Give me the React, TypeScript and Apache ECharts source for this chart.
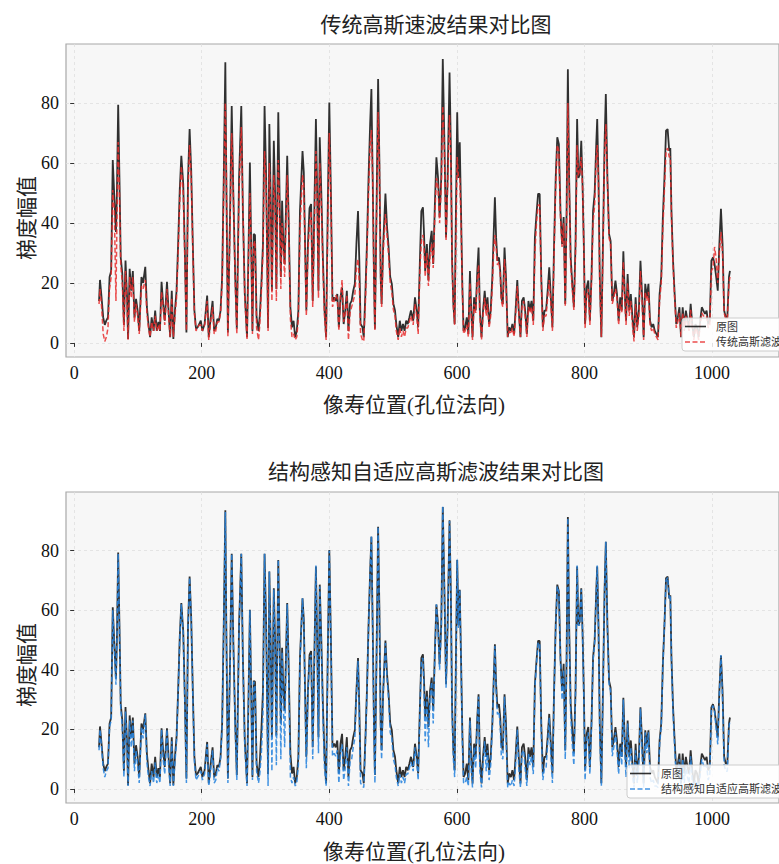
import React, { useEffect, useRef } from "react";
import * as echarts from "echarts";

const xs = [
  39, 40.5, 43, 45.5, 48, 50.5, 53, 55.5, 58, 60.5, 63, 65.5, 67, 69, 71, 73, 75.5, 78, 80.5, 83,
  84.5, 87, 89.5, 92, 94.5, 97, 99.5, 102, 105.5, 108, 111.5, 114, 116.5, 119, 121.5, 124.5, 127, 129.5, 132, 134.5,
  137, 139.5, 142, 145.5, 148, 150.5, 153, 155.5, 158, 160.5, 163, 165.5, 168, 171, 173.5, 176, 178.5, 181, 183.5, 186,
  188.5, 191, 193.5, 196, 198.5, 201, 204.5, 208.5, 211, 213.5, 217, 219.5, 222, 224.5, 227, 229.5, 232, 234.5, 237, 238.5,
  241, 244.5, 247, 249.5, 252.5, 255, 258.5, 262, 264.5, 267.5, 271, 273.5, 275.5, 277.5, 279.5, 281.5, 283.5, 286, 289, 291,
  293.5, 296, 298.5, 301, 304, 306, 308, 310, 313, 315, 317, 320, 322, 324, 326, 328, 330, 332, 334, 336,
  339, 341.5, 344, 346.5, 349, 351.5, 354, 358, 360, 362, 364, 366.5, 369, 371.5, 374, 376.5, 379, 381, 383, 385,
  387.5, 390, 392.5, 395, 397.5, 400, 402.5, 405, 407.5, 410, 412.5, 415, 417.5, 420, 422.5, 425, 427.5, 430, 432.5, 435,
  437.5, 440, 442.5, 445, 447, 449, 452, 454, 456.5, 459, 461.5, 464, 466, 468, 470, 471.5, 474, 476.5, 478.5, 480.5,
  482, 484.5, 488, 490.5, 493, 495.5, 498, 500.5, 503, 505, 508, 510.5, 513, 515.5, 518, 520.5, 523, 525.5, 528, 531.5,
  534.3, 537, 539.3, 542, 544.3, 546.8, 548.5, 550.3, 553, 555.4, 557.9, 560.5, 562.9, 565.5, 567.9, 570.5, 572.9, 575.5, 577.9, 580.5,
  583, 585.5, 588.5, 590.5, 592.5, 594.5, 596.5, 598.5, 600.5, 602.5, 604.5, 606.5, 608.5, 610.5, 613, 615.5, 618, 620.5, 622.5, 624.5,
  627, 629.5, 632, 634, 636, 638.6, 641, 643.6, 646, 648, 650.5, 653, 655.6, 657.5, 659.6, 661.5, 663.6, 666, 668, 669.7,
  672, 674.7, 677, 679.7, 682, 684.7, 687, 689.7, 692, 694.7, 697, 699.7, 702, 704.7, 707, 709.7, 712.2, 714.5, 717, 719.8,
  722.3, 724.8, 727.3, 729.8, 732.3, 734.8, 737.3, 739.8, 742.3, 744.8, 747.3, 749.8, 752.4, 754.9, 757.4, 759.9, 762.4, 764.9, 767.4, 769.9,
  772, 774, 776, 778.4, 780.9, 783.4, 786, 788.5, 790.5, 792.5, 795, 797, 799, 801, 803.5, 806, 808.5, 811, 813.5, 816,
  818.5, 820, 822, 824, 826.5, 829, 831.5, 833.5, 836, 838.6, 841, 843.6, 846, 848.6, 851, 853.6, 856, 858.5, 861, 863,
  865.2, 867.7, 870.2, 872.7, 875.2, 877.7, 880.2, 882.7, 885.3, 887.8, 890.3, 892.8, 895.3, 897.8, 900.3, 902.8, 905.3, 907.8, 910.3, 912.8,
  915.3, 917.8, 920.4, 922.9, 925.4, 927.9, 930.4, 932.9, 934.6, 936.4, 938.9, 941.4, 943.9, 946.4, 948.9, 951.4, 954, 956.5, 959, 961.5,
  964, 966.5, 969, 971.5, 974, 976.5, 979, 981.5, 984, 986.5, 989, 991.5, 994, 996.5, 999, 1001.5, 1004, 1006.5, 1009, 1011.5,
  1014, 1016.5, 1019, 1021.6, 1024, 1026.6, 1028.1,
];

const orig = [
  14, 21, 15, 8.5, 6, 7.5, 8.5, 22, 24, 61, 48.5, 37, 50, 79.4, 55, 28.5, 23, 6, 27.5, 15,
  1.3, 24.7, 17.4, 24, 8.5, 14.7, 10.8, 4, 22, 20, 25.4, 12, 6.3, 1.9, 8.5, 4, 10.8, 4, 7, 4,
  20.4, 13, 7.4, 20.4, 10.8, 1.9, 17.4, 1.3, 10.8, 17.4, 33, 50.8, 62.4, 53, 30.8, 3.5, 55, 71.3, 57.4, 33,
  10.8, 4.7, 5.2, 6.3, 7.4, 4, 6.3, 15.8, 1.9, 7.4, 14, 4, 5.2, 8, 7.4, 10.8, 22, 55, 93.6, 55,
  3.5, 44, 79, 50, 22, 4.7, 55, 79, 44, 16.3, 1.9, 33, 60.2, 33, 4, 36.3, 36, 8.5, 4, 9,
  19.7, 33, 79, 55, 5, 73, 50, 17.4, 67.4, 50, 18, 76.9, 50, 22, 47.4, 33, 26.3, 44, 62.4, 44,
  11.9, 5.2, 7.4, 1.9, 4, 10.8, 44, 64, 57, 33, 10.8, 33, 45, 46.3, 14, 44, 74.7, 50, 17.4, 68.6,
  50, 27.8, 10.8, 1.9, 44, 80.2, 50, 14, 15.2, 14, 16.3, 5.2, 15.2, 18.5, 6.3, 10.8, 17.4, 4, 13, 14,
  17.4, 19.7, 33, 44, 27.8, 6.3, 5.2, 1.9, 16.3, 33, 55, 73, 84.7, 55, 22, 4.7, 44, 88, 61, 22,
  13, 33, 49.8, 38.6, 31.8, 22, 19.7, 13, 10.8, 6.3, 1.9, 7.4, 4, 6.3, 4, 7.4, 6.3, 8.5, 10.8, 7.4,
  15.2, 10.8, 5.2, 27.4, 44, 45.2, 36.3, 24, 33, 20.8, 33, 37.4, 26.3, 46.3, 61.9, 55, 41.9, 55, 94.7, 66.3,
  35.2, 55, 90.2, 66.3, 27.4, 13, 6.3, 44, 76.9, 55, 66.9, 44, 19.7, 4, 5.2, 8.5, 3, 24, 11, 1.9,
  15.2, 10.8, 24, 31.8, 10.8, 1.9, 10.8, 17.4, 10.8, 15.2, 6.3, 10.8, 22, 35.2, 48.6, 35.2, 27.4, 28.5, 24, 15.2,
  13, 31.8, 22, 1.9, 5.2, 4, 6.3, 3, 10.8, 21, 10.8, 1.9, 14, 15.2, 10.8, 3, 14, 10.8, 14, 7.4,
  35.2, 43, 49.7, 49.7, 22, 5.2, 10.8, 10.8, 17.4, 25.2, 15.2, 5.2, 33, 55, 68.6, 66.3, 44, 33, 42, 13,
  44, 91.3, 55, 28.6, 19.7, 11.9, 33, 74.7, 55, 56, 67.4, 53, 33, 6.3, 18.5, 20.8, 7.4, 22, 44, 50,
  66.3, 74.7, 55, 22, 1.9, 33, 66.3, 83, 55, 36.3, 34, 14, 16.3, 20.8, 16.3, 7.4, 15.2, 10.8, 30.6, 17.4,
  7.4, 23, 10.8, 16.3, 8.5, 1.9, 15.2, 5.2, 10.8, 27.4, 16.3, 1.9, 19.7, 15.2, 19.7, 7.4, 5.2, 6.3, 4, 3,
  1.9, 16.3, 22, 41.9, 55, 70.8, 71.3, 64, 65, 44, 27.4, 16.3, 6.3, 8.5, 11.9, 1.9, 11.9, 5.2, 10.8, 7.4,
  5.2, 13, 6.3, 1.9, 6.3, 5.2, 1.9, 7.4, 11.9, 10.8, 9.7, 10.8, 6.3, 7.4, 27.4, 28.5, 26.3, 22, 17.4, 33,
  44.7, 33, 10.8, 8.5, 8.5, 22, 24,
];

const trad = [
  13, 18, 12, 3, 0.5, 2, 5, 18, 22, 51, 44, 14, 40, 67, 50, 26, 20, 4, 24, 12,
  1, 22, 15, 22, 7, 13, 9, 3, 19, 18, 21, 10, 5, 2, 7, 4, 9, 4, 6, 4,
  17, 12, 6, 18, 9, 2, 15, 2, 9, 15, 30, 47, 59, 50, 28, 4, 50, 66, 55, 31,
  10, 4, 5, 6, 6, 4, 6, 14, 1, 6, 12, 3, 4, 7, 7, 10, 20, 50, 80, 60,
  2, 40, 70, 50, 20, 3, 50, 72, 45, 15, 1, 30, 50, 32, 3, 33, 34, 5, 1, 6,
  17, 30, 64, 52, 4, 60, 45, 14, 56, 46, 14, 61, 46, 18, 40, 30, 22, 40, 56, 42,
  8, 2, 3, 1, 2, 8, 38, 56, 52, 30, 9, 30, 40, 44, 12, 38, 64, 48, 15, 60,
  46, 25, 9, 1, 38, 70, 48, 12, 14, 16, 15, 4, 15, 21, 7, 10, 16, 1, 10, 12,
  14, 16, 25, 28, 20, 3, 1, 0.5, 13, 30, 50, 66, 71, 55, 20, 4, 40, 77, 60, 22,
  12, 30, 43, 36, 29, 20, 17, 11, 9, 4, 1, 5, 2, 4, 2, 5, 5, 7, 9, 6,
  13, 9, 3, 24, 34, 36, 32, 22, 30, 19, 29, 33, 25, 43, 55, 52, 40, 52, 79, 64,
  34, 52, 76, 62, 26, 12, 6, 36, 62, 55, 55, 40, 18, 3, 4, 6, 2, 20, 9, 1,
  13, 10, 21, 26, 9, 1, 9, 15, 9, 13, 5, 9, 19, 30, 36, 32, 26, 27, 23, 14,
  12, 28, 20, 2, 4, 3, 5, 2, 9, 19, 10, 2, 12, 14, 9, 2, 12, 10, 12, 6,
  30, 40, 46, 46, 20, 4, 9, 9, 15, 21, 13, 4, 30, 52, 66, 64, 42, 32, 40, 12,
  40, 80, 54, 26, 18, 11, 30, 66, 56, 56, 62, 52, 32, 5, 16, 18, 6, 20, 40, 46,
  62, 66, 54, 20, 2, 30, 62, 73, 54, 35, 33, 13, 15, 18, 15, 6, 13, 10, 27, 15,
  6, 20, 9, 14, 6, 0.5, 13, 4, 9, 24, 14, 1, 17, 14, 17, 6, 4, 5, 3, 2,
  1, 14, 20, 38, 51, 64, 65, 62, 62, 42, 26, 15, 5, 7, 10, 2, 10, 4, 9, 6,
  4, 11, 5, 1, 5, 4, 1, 6, 10, 9, 9, 9, 5, 6, 24, 25, 32, 28, 20, 30,
  37, 30, 10, 8, 8, 20, 22,
];

const adapt = [
  13, 20, 14, 7, 4, 6, 7, 21, 23, 60, 47, 35, 49, 79, 54, 27, 21, 4, 26, 13,
  1, 23, 14, 23, 6, 13, 8, 2, 21, 17, 25, 9, 4, 1, 6, 2, 9, 2, 5, 2,
  20, 10, 5, 20, 8, 1, 16, 1, 9, 16, 32, 50, 62, 52, 29, 2, 54, 71, 57, 32,
  9, 3, 4, 5, 6, 3, 5, 15, 1, 5, 13, 2, 3, 7, 6, 10, 21, 54, 93, 55,
  2, 43, 79, 49, 20, 3, 54, 79, 43, 14, 1, 32, 60, 32, 3, 36, 35, 6, 2, 5,
  12, 25, 79, 54, 1, 73, 48, 6, 67, 47, 8, 77, 47, 10, 46, 28, 14, 42, 62, 42,
  4, 2, 4, 1, 2, 8, 43, 64, 56, 30, 7, 32, 44, 45, 10, 42, 75, 49, 12, 68,
  48, 24, 7, 1, 42, 80, 49, 11, 12, 11, 13, 2, 12, 15, 3, 7, 14, 1, 9, 10,
  14, 17, 32, 43, 24, 2, 1, 0.5, 15, 32, 54, 73, 85, 54, 18, 2, 43, 88, 60, 20,
  10, 32, 49, 37, 30, 19, 17, 10, 8, 4, 1, 5, 2, 4, 2, 5, 5, 7, 9, 6,
  14, 9, 3, 26, 43, 44, 33, 16, 31, 14, 31, 36, 22, 45, 62, 54, 40, 54, 95, 66,
  34, 54, 90, 66, 25, 10, 4, 43, 77, 54, 67, 43, 16, 2, 2, 4, 1, 23, 6, 0.5,
  14, 7, 23, 31, 6, 0.5, 8, 16, 6, 13, 3, 8, 21, 34, 48, 33, 25, 26, 21, 11,
  10, 31, 18, 0.5, 2, 1, 3, 1, 8, 20, 7, 0.5, 12, 13, 7, 1, 12, 8, 11, 5,
  34, 42, 49, 49, 19, 3, 7, 7, 15, 24, 11, 2, 32, 54, 68, 66, 43, 30, 40, 10,
  43, 91, 54, 25, 15, 8, 32, 75, 55, 55, 67, 52, 31, 3, 17, 19, 5, 21, 43, 49,
  66, 75, 54, 18, 1, 32, 66, 83, 54, 35, 33, 11, 14, 19, 13, 5, 14, 8, 30, 13,
  4, 22, 7, 14, 5, 0.5, 13, 2, 8, 27, 12, 0.5, 19, 12, 19, 4, 2, 3, 1, 1,
  0.5, 15, 21, 41, 55, 70, 71, 64, 65, 43, 26, 14, 3, 5, 10, 0.5, 10, 2, 8, 4,
  2, 11, 3, 0.5, 3, 2, 0.5, 5, 10, 8, 7, 8, 3, 5, 27, 28, 26, 20, 15, 32,
  45, 30, 8, 6, 6, 21, 23,
];

const xTicks = [0, 200, 400, 600, 800, 1000];
const yTicks = [0, 20, 40, 60, 80];

const SERIF = "'Liberation Serif', 'Noto Sans CJK SC', serif";
const BLACK = "rgba(20,20,20,0.88)";
const RED = "rgba(232,45,45,0.85)";
const BLUE = "rgba(40,132,222,0.88)";

function makeAxes(gridIndex: number) {
  const common = {
    type: "value",
    gridIndex,
    axisLine: { show: false },
    splitLine: {
      show: true,
      lineStyle: { color: "#dedede", type: [3, 3], width: 0.8 },
    },
  };
  const xAxis = {
    ...common,
    min: -12.8,
    max: 1105,
    axisTick: {
      show: true,
      inside: false,
      length: 4,
      customValues: xTicks,
      lineStyle: { color: "#333", width: 1 },
    },
    axisLabel: {
      customValues: xTicks,
      formatter: (v: number) => String(v),
      fontSize: 18,
      fontFamily: SERIF,
      color: "#111",
      margin: 7,
    },
  };
  const yAxis = {
    ...common,
    min: -4.7,
    max: 99.7,
    axisTick: {
      show: true,
      inside: false,
      length: 4,
      customValues: yTicks,
      lineStyle: { color: "#333", width: 1 },
    },
    axisLabel: {
      customValues: yTicks,
      formatter: (v: number) => String(v),
      fontSize: 18,
      fontFamily: SERIF,
      color: "#111",
      margin: 7,
    },
  };
  return { xAxis, yAxis };
}

function legendGraphic(left: number, top: number, h: number, labels: string[], colors: string[], dashed: boolean[]) {
  const Z = 100;
  const children: any[] = [
    {
      type: "rect",
      z: Z,
      shape: { x: left, y: top, width: 200, height: h, r: 3 },
      style: { fill: "rgba(255,255,255,0.85)", stroke: "#cccccc", lineWidth: 1 },
    },
  ];
  labels.forEach((lab, i) => {
    const y = top + 8.5 + i * 15.5;
    children.push({
      type: "line",
      z: Z + 1,
      shape: { x1: left + 3, y1: y, x2: left + 24, y2: y },
      style: {
        stroke: colors[i],
        lineWidth: 1.6,
        lineDash: dashed[i] ? [5, 2.5] : null,
      },
    });
    children.push({
      type: "text",
      z: Z + 1,
      x: left + 34,
      y,
      style: {
        text: lab,
        align: "left",
        verticalAlign: "middle",
        fontSize: 11,
        fontFamily: SERIF,
        fill: "#333",
      },
    });
  });
  return children;
}

function label(text: string, x: number, y: number, fontSize: number, rotation = 0) {
  return {
    type: "text",
    x,
    y,
    rotation,
    style: {
      text,
      align: "center",
      verticalAlign: "middle",
      fontSize,
      fontFamily: SERIF,
      fill: "#222",
    },
  };
}

export default function App() {
  const ref = useRef<HTMLDivElement>(null);

  useEffect(() => {
    if (!ref.current) return;
    const chart = echarts.init(ref.current, null, { renderer: "svg" });

    const origData = xs.map((x, i) => [x, orig[i]]);
    const tradData = xs.map((x, i) => [x, trad[i]]);
    const adaptData = xs.map((x, i) => [x, adapt[i]]);

    const a0 = makeAxes(0);
    const a1 = makeAxes(1);

    const gridCommon = {
      left: 66,
      right: -27,
      show: true,
      backgroundColor: "#f7f7f7",
      borderColor: "#a8a8a8",
      borderWidth: 1.2,
    };

    const lineCommon = { type: "line", symbol: "none", showSymbol: false, silent: true };

    chart.setOption({
      animation: false,
      backgroundColor: "#ffffff",
      grid: [
        { ...gridCommon, top: 44, height: 313 },
        { ...gridCommon, top: 492, height: 311 },
      ],
      xAxis: [a0.xAxis, a1.xAxis],
      yAxis: [a0.yAxis, a1.yAxis],
      graphic: [
        label("传统高斯速波结果对比图", 436, 25, 21),
        label("像寿位置(孔位法向)", 414, 405, 21),
        label("梯度幅值", 27, 218, 21, Math.PI / 2),
        label("结构感知自适应高斯滤波结果对比图", 436, 472, 21),
        label("像寿位置(孔位法向)", 414, 852, 21),
        label("梯度幅值", 27, 665, 21, Math.PI / 2),
        ...legendGraphic(682, 318, 33, ["原图", "传统高斯滤波"], [BLACK, RED], [false, true]),
        ...legendGraphic(627, 765, 33, ["原图", "结构感知自适应高斯滤波"], [BLACK, BLUE], [false, true]),
      ],
      series: [
        {
          ...lineCommon,
          name: "原图",
          xAxisIndex: 0,
          yAxisIndex: 0,
          data: origData,
          lineStyle: { color: BLACK, width: 1.8 },
          z: 2,
        },
        {
          ...lineCommon,
          name: "传统高斯滤波",
          xAxisIndex: 0,
          yAxisIndex: 0,
          data: tradData,
          lineStyle: { color: RED, width: 1.5, type: [5, 2.5] },
          z: 3,
        },
        {
          ...lineCommon,
          name: "原图",
          xAxisIndex: 1,
          yAxisIndex: 1,
          data: origData,
          lineStyle: { color: BLACK, width: 1.8 },
          z: 2,
        },
        {
          ...lineCommon,
          name: "结构感知自适应高斯滤波",
          xAxisIndex: 1,
          yAxisIndex: 1,
          data: adaptData,
          lineStyle: { color: BLUE, width: 1.5, type: [5, 2.5] },
          z: 3,
        },
      ],
    });

    return () => {
      chart.dispose();
    };
  }, []);

  return (
    <div
      ref={ref}
      style={{ position: "absolute", left: 0, top: 0, width: 779, height: 864 }}
    />
  );
}
